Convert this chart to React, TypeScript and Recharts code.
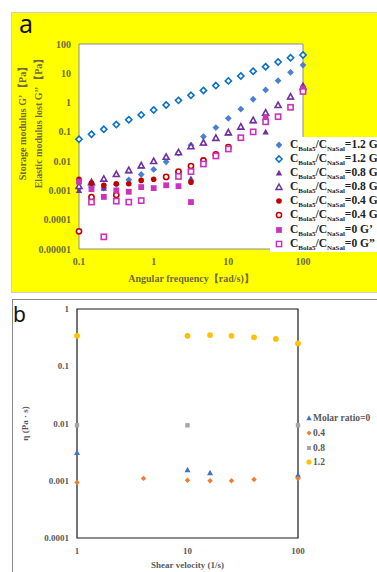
import React from 'react';
import { ScatterChart, Scatter, XAxis, YAxis, CartesianGrid, ReferenceArea, Legend, Label } from 'recharts';

// ---------- Panel a data ----------
const freqA = [0.1, 0.147, 0.215, 0.316, 0.464, 0.681, 1, 1.47, 2.15, 3.16, 4.64, 6.81, 10, 14.7, 21.5, 31.6, 46.4, 68.1, 100];
const gp12 = [0.0012, 0.0013, 0.0012, 0.0016, 0.0023, 0.0035, 0.0052, 0.0095, 0.019, 0.035, 0.069, 0.14, 0.29, 0.6, 1.3, 2.7, 5.6, 10.8, 19];
const gpp12 = [0.056, 0.083, 0.122, 0.177, 0.26, 0.38, 0.56, 0.83, 1.19, 1.77, 2.6, 3.8, 5.5, 8.1, 11.7, 16.8, 24.3, 34, 42];
const gp08 = [0.001, 0.0018, 0.0012, 0.0035, 0.0047, 0.007, 0.0098, 0.014, 0.02, 0.0025, 0.042, 0.06, 0.093, 0.15, 0.24, 0.1, 0.8, 1.55, 4];
const gpp08 = [0.0014, 0.0019, 0.0025, 0.0036, 0.0049, 0.0071, 0.01, 0.014, 0.02, 0.032, 0.043, 0.062, 0.095, 0.15, 0.25, 0.45, 0.82, 1.6, 3.4];
const gp04 = [0.0024, 0.0018, 0.0015, 0.0017, 0.0017, 0.0022, 0.0024, 0.0029, 0.0042, 0.0019, 0.0105, 0.017, 0.03, null, null, null, null, null, null];
const gpp04 = [0.00004, 0.00059, null, 0.0007, null, null, null, 0.0029, 0.0044, 0.0068, 0.0105, 0.017, 0.03, null, null, null, null, null, null];
const gp0 = [0.002, 0.0011, 0.0006, 0.001, 0.0009, 0.0013, 0.0012, 0.0015, 0.0014, 0.0004, null, null, null, null, null, 0.3, null, null, 3.0];
const gpp0 = [null, 0.0004, 0.000026, 0.00043, 0.0004, 0.00045, null, null, 0.003, 0.0044, 0.008, 0.015, 0.026, 0.063, 0.1, 0.22, 0.33, 0.69, 2.4];

const xTicksA = [0.1, 1, 10, 100];
const xTickLabelsA = ['0.1', '1', '10', '100'];
const yTicksA = [0.00001, 0.0001, 0.001, 0.01, 0.1, 1, 10, 100];
const yTickLabelsA = ['0.00001', '0.0001', '0.001', '0.01', '0.1', '1', '10', '100'];

// ---------- Panel b data ----------
const eta0X = [1, 10, 16, 100];
const eta0 = [0.0031, 0.00155, 0.00138, 0.00126];
const eta04X = [1, 4, 10, 16, 25, 40, 100];
const eta04 = [0.00093, 0.0011, 0.00102, 0.001, 0.001, 0.00105, 0.0011];
const eta08X = [1, 10, 100];
const eta08 = [0.0093, 0.0093, 0.0093];
const eta12X = [1, 10, 16, 25, 40, 63, 100];
const eta12 = [0.34, 0.34, 0.35, 0.34, 0.32, 0.30, 0.25];

const xTicksB = [1, 10, 100];
const xTickLabelsB = ['1', '10', '100'];
const yTicksB = [0.0001, 0.001, 0.01, 0.1, 1];
const yTickLabelsB = ['0.0001', '0.001', '0.01', '0.1', '1'];

type Kind = 'diamond' | 'triangle' | 'circle' | 'square';

const pts = (xs: number[], ys: (number | null)[]) =>
  xs.map((x, i) => ({ x, y: ys[i] })).filter((p) => p.y != null);

function drawMarker(kind: Kind, color: string, r: number, open: boolean, cx: number, cy: number, sw = 1.5) {
  const common = { fill: open ? '#ffffff' : color, stroke: open ? color : 'none', strokeWidth: open ? sw : 0 };
  switch (kind) {
    case 'diamond':
      return <polygon points={`${cx},${cy - r} ${cx + r},${cy} ${cx},${cy + r} ${cx - r},${cy}`} {...common} />;
    case 'triangle':
      return <polygon points={`${cx},${cy - r} ${cx + r},${cy + r * 0.8} ${cx - r},${cy + r * 0.8}`} {...common} />;
    case 'circle':
      return <circle cx={cx} cy={cy} r={r} {...common} />;
    default:
      return <rect x={cx - r} y={cy - r} width={2 * r} height={2 * r} {...common} />;
  }
}

const makeShape = (kind: Kind, color: string, r: number, open: boolean, sw = 1.5) => (props: any) => {
  const { cx, cy } = props;
  if (cx == null || cy == null || isNaN(cx) || isNaN(cy)) return <g />;
  return drawMarker(kind, color, r, open, cx, cy, sw);
};

const seriesA: { label: string; ys: (number | null)[]; kind: Kind; color: string; open: boolean; r: number }[] = [
  { label: '=1.2 G’', ys: gp12, kind: 'diamond', color: '#4a80d2', open: false, r: 3.4 },
  { label: '=1.2 G’’', ys: gpp12, kind: 'diamond', color: '#0b70c4', open: true, r: 3.1 },
  { label: '=0.8 G’', ys: gp08, kind: 'triangle', color: '#7030a0', open: false, r: 3.2 },
  { label: '=0.8 G’’', ys: gpp08, kind: 'triangle', color: '#7030a0', open: true, r: 3.0 },
  { label: '=0.4 G’', ys: gp04, kind: 'circle', color: '#c00000', open: false, r: 2.8 },
  { label: '=0.4 G’’', ys: gpp04, kind: 'circle', color: '#c00000', open: true, r: 2.6 },
  { label: '=0 G’', ys: gp0, kind: 'square', color: '#cc33bb', open: false, r: 2.9 },
  { label: '=0 G”', ys: gpp0, kind: 'square', color: '#cc33bb', open: true, r: 2.6 },
];

const seriesB: { label: string; xs: number[]; ys: number[]; kind: Kind; color: string; r: number }[] = [
  { label: 'Molar ratio=0', xs: eta0X, ys: eta0, kind: 'triangle', color: '#4472c4', r: 3.0 },
  { label: '0.4', xs: eta04X, ys: eta04, kind: 'diamond', color: '#ed7d31', r: 2.7 },
  { label: '0.8', xs: eta08X, ys: eta08, kind: 'square', color: '#a5a5a5', r: 2.2 },
  { label: '1.2', xs: eta12X, ys: eta12, kind: 'circle', color: '#ffc000', r: 2.9 },
];

const SERIF = "'Liberation Serif', 'Times New Roman', 'DejaVu Serif', serif";
const OLIVE = '#6f6b3a';
const GRAY = '#595959';

const subStyle = { fontSize: 7, position: 'relative' as const, top: 3 };

const LegendA = () => (
  <div style={{ background: '#fff', width: 120, height: 115, paddingTop: 1, boxSizing: 'border-box', fontFamily: SERIF, fontWeight: 'bold', color: '#222', whiteSpace: 'nowrap' }}>
    {seriesA.map((s) => (
      <div key={s.label} style={{ height: 14.1, position: 'relative' }}>
        <svg width={12} height={12} style={{ position: 'absolute', left: 3, top: 1 }}>
          {drawMarker(s.kind, s.color, s.r, s.open, 6, 6)}
        </svg>
        <span style={{ position: 'absolute', left: 20, top: -1, fontSize: 11.5, lineHeight: '14px' }}>
          C<span style={subStyle}>Bola5</span>/C<span style={subStyle}>NaSal</span>{s.label}
        </span>
      </div>
    ))}
  </div>
);

const LegendB = () => (
  <div style={{ fontFamily: SERIF, fontSize: 9.5, color: GRAY, whiteSpace: 'nowrap', fontWeight: 'bold' }}>
    {seriesB.map((s) => (
      <div key={s.label} style={{ height: 14.8, position: 'relative' }}>
        <svg width={10} height={10} style={{ position: 'absolute', left: 4, top: 2 }}>
          {drawMarker(s.kind, s.color, s.r * 0.9, false, 5, 5)}
        </svg>
        <span style={{ position: 'absolute', left: 13, top: 0, lineHeight: '14px' }}>{s.label}</span>
      </div>
    ))}
  </div>
);

const YTitleA = (props: any) => {
  const vb = props.viewBox || { x: 0, y: 44, width: 79, height: 205 };
  const cy = vb.y + vb.height / 2 - 25.5;
  const st = { fontFamily: SERIF, fontWeight: 'bold' as const, fontSize: 10, fill: OLIVE };
  return (
    <g>
      <text transform={`translate(22, ${cy}) rotate(-90)`} textAnchor="middle" dominantBaseline="central" {...st}>Storage modulus G’ 【Pa】</text>
      <text transform={`translate(38, ${cy}) rotate(-90)`} textAnchor="middle" dominantBaseline="central" {...st}>Elastic modulus lost G’’ 【Pa】</text>
    </g>
  );
};

const XTitleA = (props: any) => {
  const vb = props.viewBox || { x: 79, y: 249, width: 224, height: 51 };
  return (
    <text x={vb.x + vb.width / 2} y={vb.y + 29} textAnchor="middle" dominantBaseline="central" fontFamily={SERIF} fontWeight="bold" fontSize={10} fill={OLIVE}>
      Angular frequency【rad/s)】
    </text>
  );
};

const YTitleB = (props: any) => {
  const vb = props.viewBox || { x: 0, y: 19, width: 77, height: 229 };
  const cy = vb.y + vb.height / 2;
  return (
    <text transform={`translate(25, ${cy}) rotate(-90)`} textAnchor="middle" dominantBaseline="central" fontFamily={SERIF} fontWeight="bold" fontSize={9} fill={GRAY}>
      η (Pa · s)
    </text>
  );
};

const XTitleB = (props: any) => {
  const vb = props.viewBox || { x: 77, y: 248, width: 221, height: 34 };
  return (
    <text x={vb.x + vb.width / 2} y={vb.y + 27} textAnchor="middle" dominantBaseline="central" fontFamily={SERIF} fontWeight="bold" fontSize={9} fill={GRAY}>
      Shear velocity (1/s)
    </text>
  );
};

export default function App() {
  return (
    <div style={{ position: 'absolute', left: 0, top: 0, width: 377, height: 572, overflow: 'hidden', background: '#fff' }}>
      {/* panel a background */}
      <div style={{ position: 'absolute', left: 11, top: 12, width: 380, height: 279, background: '#ffff00', border: '1px solid #cfcfcf' }} />
      <div style={{ position: 'absolute', left: 19, top: 8, fontFamily: "'Noto Sans', 'DejaVu Sans', sans-serif", fontSize: 25, color: '#111', lineHeight: '30px' }}>a</div>

      <div style={{ position: 'absolute', left: 0, top: 0 }}>
        <ScatterChart width={377} height={300} margin={{ top: 44, right: 74, bottom: 0, left: 0 }}>
          <CartesianGrid horizontal={false} vertical={false} fill="#ffffff" />
          <XAxis
            type="number"
            dataKey="x"
            scale="log"
            domain={[0.1, 100]}
            ticks={xTicksA}
            interval={0}
            height={51}
            tickLine={false}
            axisLine={false}
            tickMargin={3}
            tickFormatter={(v: number) => xTickLabelsA[xTicksA.indexOf(v)] ?? String(v)}
            tick={{ fill: OLIVE, fontSize: 10, fontWeight: 'bold', fontFamily: SERIF }}
          >
            <Label content={XTitleA} />
          </XAxis>
          <YAxis
            type="number"
            dataKey="y"
            scale="log"
            domain={[0.00001, 100]}
            ticks={yTicksA}
            interval={0}
            width={79}
            tickLine={false}
            axisLine={false}
            tickFormatter={(v: number) => yTickLabelsA[yTicksA.indexOf(v)] ?? String(v)}
            tick={{ fill: OLIVE, fontSize: 10, fontWeight: 'bold', fontFamily: SERIF }}
          >
            <Label content={YTitleA} />
          </YAxis>
          <ReferenceArea x1={0.1} x2={100} y1={0.00001} y2={100} fill="none" stroke="#8c8c8c" strokeWidth={1} ifOverflow="visible" />
          {seriesA.map((s) => (
            <Scatter
              key={s.label}
              name={s.label}
              data={pts(freqA, s.ys)}
              isAnimationActive={false}
              shape={makeShape(s.kind, s.color, s.r, s.open, 1.6)}
            />
          ))}
          <Legend
            layout="horizontal"
            verticalAlign="middle"
            align="center"
            content={() => <LegendA />}
            wrapperStyle={{ position: 'absolute', left: 270, top: 137, width: 120, height: 115 }}
          />
        </ScatterChart>
      </div>

      {/* panel b frame */}
      <div style={{ position: 'absolute', left: 12, top: 299, width: 400, height: 300, borderTop: '1px solid #8a8a8a', borderLeft: '1px solid #8a8a8a' }} />
      <div style={{ position: 'absolute', left: 13, top: 301, fontFamily: "'Noto Sans', 'DejaVu Sans', sans-serif", fontSize: 21, color: '#111', lineHeight: '26px' }}>b</div>

      <div style={{ position: 'absolute', left: 0, top: 290 }}>
        <ScatterChart width={377} height={282} margin={{ top: 19, right: 79, bottom: 0, left: 0 }}>
          <XAxis
            type="number"
            dataKey="x"
            scale="log"
            domain={[1, 100]}
            ticks={xTicksB}
            interval={0}
            height={34}
            tickLine={false}
            axisLine={false}
            tickMargin={4}
            tickFormatter={(v: number) => xTickLabelsB[xTicksB.indexOf(v)] ?? String(v)}
            tick={{ fill: GRAY, fontSize: 9, fontFamily: SERIF, fontWeight: 'bold' }}
          >
            <Label content={XTitleB} />
          </XAxis>
          <YAxis
            type="number"
            dataKey="y"
            scale="log"
            domain={[0.0001, 1]}
            ticks={yTicksB}
            interval={0}
            width={77}
            tickLine={false}
            axisLine={false}
            tickFormatter={(v: number) => yTickLabelsB[yTicksB.indexOf(v)] ?? String(v)}
            tick={{ fill: GRAY, fontSize: 9, fontFamily: SERIF, fontWeight: 'bold' }}
          >
            <Label content={YTitleB} />
          </YAxis>
          <ReferenceArea x1={1} x2={100} y1={0.0001} y2={1} fill="none" stroke="#1a1a1a" strokeWidth={1.2} ifOverflow="visible" />
          {seriesB.map((s) => (
            <Scatter
              key={s.label}
              name={s.label}
              data={pts(s.xs, s.ys)}
              isAnimationActive={false}
              shape={makeShape(s.kind, s.color, s.r, false)}
            />
          ))}
          <Legend
            layout="horizontal"
            verticalAlign="middle"
            align="center"
            content={() => <LegendB />}
            wrapperStyle={{ position: 'absolute', left: 300, top: 121, width: 80, height: 60 }}
          />
        </ScatterChart>
      </div>
    </div>
  );
}
